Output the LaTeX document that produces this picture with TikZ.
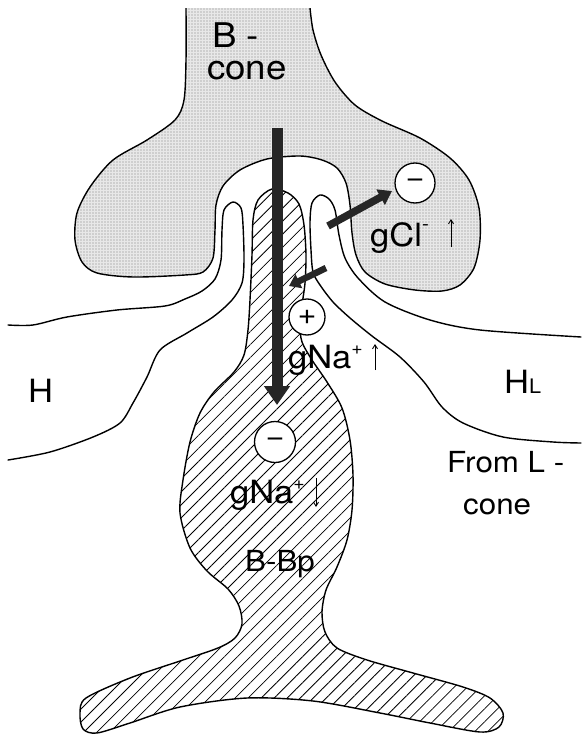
\documentclass[tikz,border=0pt]{standalone}
\usepackage{fontspec}
\setmainfont{TeX Gyre Heros}[FakeStretch=1.08]
\usetikzlibrary{arrows.meta,patterns.meta}
\begin{document}
\begin{tikzpicture}[x=1pt,y=-1pt,
  outline/.style={line width=1.4pt, line join=round, line cap=round},
  stipple/.style={preaction={fill=black!9}, pattern={Dots[distance=3pt,radius=0.55pt]}, pattern color=black!50},
  hatch/.style={pattern={Lines[angle=45,distance=9.2pt,line width=0.8pt]}},
  lbl/.style={inner sep=0pt, anchor=base west},
  big/.style={font=\fontsize{34}{34}\selectfont},
  mid/.style={font=\fontsize{32}{32}\selectfont},
  sml/.style={font=\fontsize{29}{29}\selectfont},
  ion/.style={circle, draw, line width=1.3pt, fill=white, inner sep=0pt, font=\fontsize{30}{30}\selectfont},
  flux/.style={draw=black!85, line cap=butt},
  tinyarrow/.style={line width=0.9pt, -{Straight Barb[length=4pt,width=5pt]}}]
\useasboundingbox (0,0) rectangle (581,738);

% B-cone pedicle (stippled), open at the top
\begin{scope}
\clip (0,9) rectangle (581,738);
\draw[outline, stipple] (186,-30) -- plot[smooth] coordinates {
  (186,8) (186,60) (184,100) (175,120) (147,140) (113,160) (90,187) (77,213)
  (75,240) (82,262) (97,273) (133,277) (185,275) (203,272) (213,258) (215,230)
  (216,205) (223,186) (240,170) (267,159) (300,156) (322,160) (337,168) (346,183)
  (350,205) (352,233) (356,255) (365,272) (385,284) (415,290) (442,291) (460,285)
  (474,268) (480,240) (479,208) (469,180) (450,158) (420,138) (382,121) (355,105)
  (335,82) (321,55) (313,30) (310,8)} -- (310,-30) -- cycle;
\end{scope}

% horizontal cell H (left) with its dendritic tip
\draw[outline] plot[smooth] coordinates {
  (8,325) (33,325) (67,317) (117,310) (165,306) (185,299) (202,291) (215,279) (221,260)
  (222,230) (224,210) (233,202) (241,208) (243,225) (244,260) (242,283) (232,300)
  (213,317) (187,333) (160,350) (147,377) (133,403) (120,423) (93,437) (50,452) (8,460)};

% horizontal cell H_L (right) with its dendritic tip
\draw[outline] plot[smooth] coordinates {
  (581,337) (480,330) (430,320) (385,302) (358,278) (345,258) (339,235) (335,210)
  (329,199) (320,195) (312,203) (310,222) (311,250) (313,272) (320,285) (333,302)
  (350,318) (372,336) (400,357) (424,382) (442,407) (463,423) (503,437) (553,442) (581,443)};

% blue-cone bipolar cell (hatched)
\draw[outline, hatch] plot[smooth cycle] coordinates {
  (272,189) (288,193) (299,204) (304,225) (306,255) (305,283) (302,305) (300,325)
  (302,342) (312,360) (327,382) (342,408) (350,440) (353,475) (352,510) (347,540)
  (337,567) (326,590) (322,612) (325,632) (337,648) (367,660) (413,673) (463,687)
  (490,698) (503,713) (499,727) (480,732) (430,723) (380,713) (313,701) (247,698)
  (180,707) (130,723) (97,733) (83,729) (80,713) (86,698) (130,678) (180,661)
  (218,648) (235,638) (242,624) (239,606) (228,589) (207,571) (190,548) (180,513)
  (183,480) (190,442) (200,413) (214,392) (234,372) (244,355) (248,330) (250,300)
  (252,255) (253,220) (258,200)};

% ion circles
\node[ion, minimum size=40pt] (clion) at (415,183) {−};
\node[ion, minimum size=36pt] (naion) at (307,317) {+};
\node[ion, minimum size=41pt] (naout) at (275,442) {−};

% current arrows
\coordinate (bigA) at (277,128);
\coordinate (bigB) at (277,405);
\coordinate (clA) at (328,226);
\coordinate (clB) at (392,191);
\coordinate (naA) at (326,268);
\coordinate (naB) at (289,286);
\draw[flux, line width=11pt, -{Triangle[length=19pt,width=25pt]}, black!85] (bigA) -- (bigB);
\draw[flux, line width=7.5pt, -{Triangle[length=13pt,width=17pt]}, black!85] (clA) -- (clB);
\draw[flux, line width=6.5pt, -{Triangle[length=11pt,width=15pt]}, black!85] (naA) -- (naB);

% labels
\node[lbl, big] (bc1) at (212,48) {B -};
\node[lbl, big] (bc2) at (207,80) {cone};
\node[lbl, mid] (hleft) at (28,402) {H};
\node[lbl, mid] (hright) at (504,393) {H{\fontsize{20}{20}\selectfont L}};
\node[lbl, sml] (from1) at (447,472) {From L -};
\node[lbl, sml] (from2) at (463,514) {cone};
\node[lbl, mid] (gcl) at (370,246) {gCl\raisebox{16pt}{\fontsize{19}{19}\selectfont -}};
\node[lbl, mid] (gna1) at (288,368) {gNa\raisebox{14pt}{\fontsize{18}{18}\selectfont +}};
\node[lbl, mid] (gna2) at (230,503) {gNa\raisebox{14pt}{\fontsize{18}{18}\selectfont +}};
\node[lbl, sml] (bbp) at (245,571) {B-Bp};

% conductance change arrows
\coordinate (u1a) at (451,247);
\coordinate (u1b) at (451,219);
\coordinate (u2a) at (375,370);
\coordinate (u2b) at (375,344);
\coordinate (d1a) at (316,478);
\coordinate (d1b) at (316,507);
\draw[tinyarrow] (u1a) -- (u1b);
\draw[tinyarrow] (u2a) -- (u2b);
\draw[tinyarrow] (d1a) -- (d1b);
\end{tikzpicture}
\end{document}
